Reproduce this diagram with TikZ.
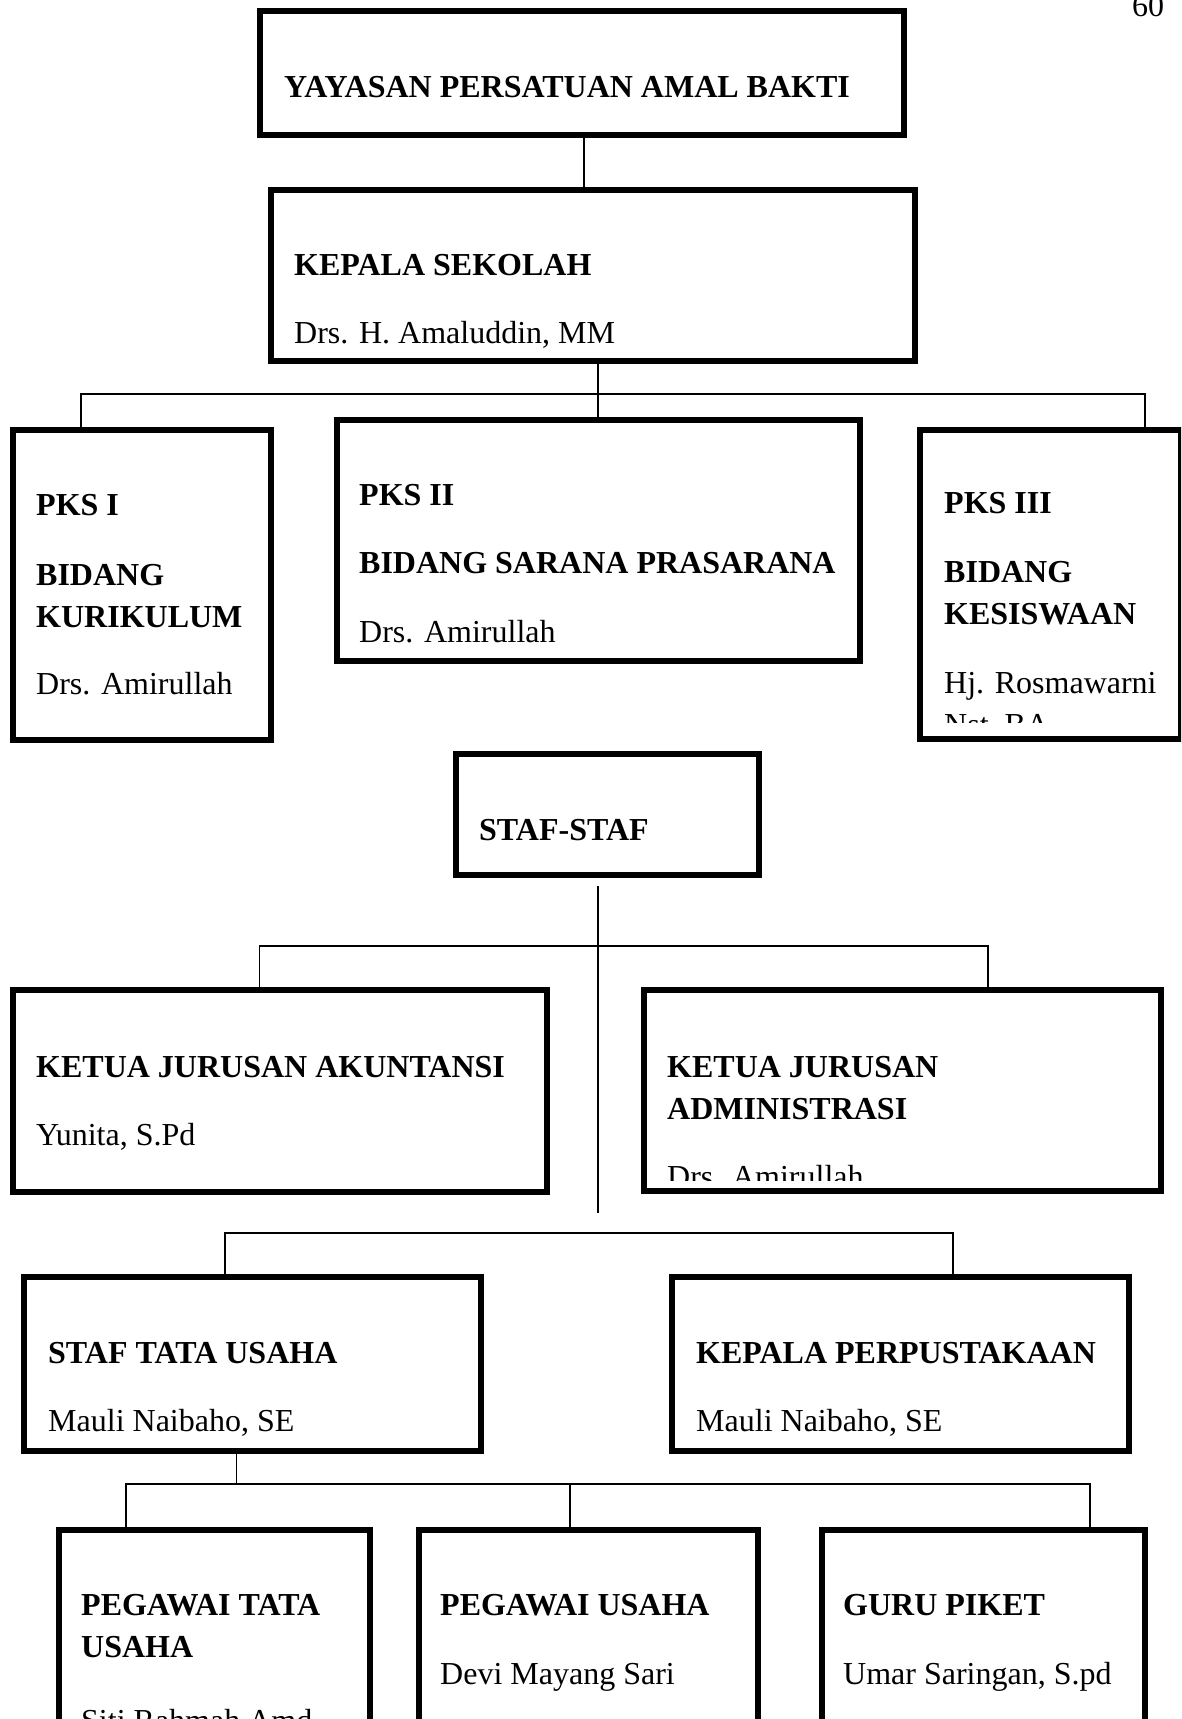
\documentclass[tikz,border=0pt]{standalone}
\usepackage{fontspec}
\setmainfont{Liberation Serif}
\usetikzlibrary{calc}
\tikzset{
  box/.style={draw=black, line width=6pt, rectangle, inner sep=0pt},
  conn/.style={draw=black, line width=1.8pt},
  hd/.style={anchor=base west, inner sep=0pt, font=\fontsize{32}{38}\selectfont\bfseries},
  nm/.style={anchor=base west, inner sep=0pt, font=\fontsize{32}{38}\selectfont},
}
\begin{document}
\begin{tikzpicture}[x=1pt,y=-1pt]
\clip (0,0) rectangle (1181,1719);
\fill[white] (0,0) rectangle (1181,1719);

% page number
\node[nm] (pg) at (1132,16) {60};

% boxes
\node[box, minimum width=644pt, minimum height=124pt] (yay) at (582,73) {};
\node[box, minimum width=644pt, minimum height=171pt] (kep) at (593,275.5) {};
\node[box, minimum width=258pt, minimum height=310pt] (pks1) at (142,585) {};
\node[box, minimum width=523pt, minimum height=241pt] (pks2) at (598.5,540.5) {};
\node[box, minimum width=261pt, minimum height=309pt] (pks3) at (1050.5,584.5) {};
\node[box, minimum width=303pt, minimum height=121pt] (staf) at (607.5,814.5) {};
\node[box, minimum width=534pt, minimum height=202pt] (kjak) at (280,1091) {};
\node[box, minimum width=517pt, minimum height=201pt] (kjad) at (902.5,1090.5) {};
\node[box, minimum width=457pt, minimum height=174pt] (stu) at (252.5,1364) {};
\node[box, minimum width=457pt, minimum height=174pt] (kpp) at (900.5,1364) {};
\node[box, minimum width=311pt, minimum height=267pt] (pta) at (214.5,1663.5) {};
\node[box, minimum width=339pt, minimum height=267pt] (pu) at (588.5,1663.5) {};
\node[box, minimum width=323pt, minimum height=267pt] (gp) at (983.5,1663.5) {};

% texts
\node[hd] (t1) at (284,97) {YAYASAN PERSATUAN AMAL BAKTI};
\node[hd] (t2) at (294,275) {KEPALA SEKOLAH};
\node[nm] (t3) at (294,343) {Drs. H. Amaluddin, MM};

\node[hd] (t4) at (36,515) {PKS I};
\node[hd] (t5) at (36,585) {BIDANG};
\node[hd] (t6) at (36,627) {KURIKULUM};
\node[nm] (t7) at (36,694) {Drs. Amirullah};

\node[hd] (t8) at (359,505) {PKS II};
\node[hd] (t9) at (359,573) {BIDANG SARANA PRASARANA};
\node[nm] (t10) at (359,642) {Drs. Amirullah};

\begin{scope}
\clip (920,430) rectangle (1181,722);
\node[hd] (t11) at (944,513) {PKS III};
\node[hd] (t12) at (944,582) {BIDANG};
\node[hd] (t13) at (944,624) {KESISWAAN};
\node[nm] (t14) at (944,693) {Hj. Rosmawarni};
\node[nm] (t15) at (944,735) {Nst, BA};
\end{scope}

\node[hd] (t16) at (479,840) {STAF-STAF};

\node[hd] (t17) at (36,1077) {KETUA JURUSAN AKUNTANSI};
\node[nm] (t18) at (36,1145) {Yunita, S.Pd};

\begin{scope}
\clip (644,990) rectangle (1160,1180);
\node[hd] (t19) at (667,1077) {KETUA JURUSAN};
\node[hd] (t20) at (667,1119) {ADMINISTRASI};
\node[nm] (t21) at (667,1187) {Drs. Amirullah};
\end{scope}

\node[hd] (t22) at (48,1363) {STAF TATA USAHA};
\node[nm] (t23) at (48,1431) {Mauli Naibaho, SE};
\node[hd] (t24) at (696,1363) {KEPALA PERPUSTAKAAN};
\node[nm] (t25) at (696,1431) {Mauli Naibaho, SE};

\node[hd] (t26) at (81,1615) {PEGAWAI TATA};
\node[hd] (t27) at (81,1657) {USAHA};
\node[nm] (t28) at (81,1731) {Siti Rahmah Amd};
\node[hd] (t29) at (440,1615) {PEGAWAI USAHA};
\node[nm] (t30) at (440,1684) {Devi Mayang Sari};
\node[hd] (t31) at (843,1615) {GURU PIKET};
\node[nm] (t32) at (843,1684) {Umar Saringan, S.pd};

% bus coordinates
\coordinate (x584) at (584,0);
\coordinate (x81) at (81,0);
\coordinate (x598) at (598,0);
\coordinate (x1145) at (1145,0);
\coordinate (b1) at (598,394);
\coordinate (b2) at (598,946);
\coordinate (x259) at (259.5,0);
\coordinate (x988) at (988,0);
\coordinate (s2) at (598,1213);
\coordinate (b3) at (953,1233);
\coordinate (x225) at (225,0);
\coordinate (b4) at (236.5,1484);
\coordinate (x126) at (126,0);
\coordinate (x1090) at (1090,0);
\coordinate (m4) at (570,1484);

% connectors
\draw[conn] (yay.south -| x584) -- (kep.north -| x584);
\draw[conn] (kep.south -| x598) -- (pks2.north -| x598);
\draw[conn] (pks1.north -| x81) |- (b1) -| (pks3.north -| x1145);
\draw[conn] ($(staf.south -| x598)+(0,8)$) -- (s2);
\draw[conn] (kjak.north -| x259) |- (b2) -| (kjad.north -| x988);
\draw[conn] (stu.north -| x225) |- (b3) -- (kpp.north -| b3);
\draw[conn] (stu.south -| b4) -- (b4);
\draw[conn] (pta.north -| x126) |- (b4) -| (gp.north -| x1090);
\draw[conn] (m4) -- (pu.north -| m4);
\end{tikzpicture}
\end{document}
